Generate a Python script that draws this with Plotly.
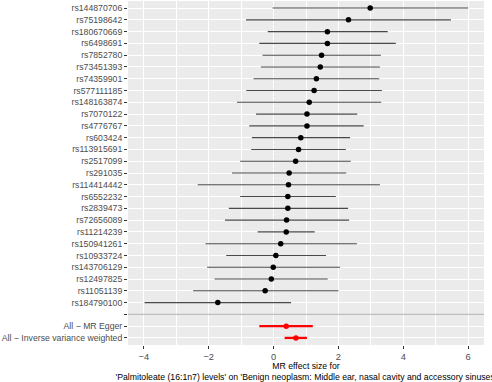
import plotly.graph_objects as go

snps = ["rs144870706", "rs75198642", "rs180670669", "rs6498691", "rs7852780",
        "rs73451393", "rs74359901", "rs577111185", "rs148163874", "rs7070122",
        "rs4776767", "rs603424", "rs113915691", "rs2517099", "rs291035",
        "rs114414442", "rs6552232", "rs2839473", "rs72656089", "rs11214239",
        "rs150941261", "rs10933724", "rs143706129", "rs12497825", "rs11051139",
        "rs184790100"]
snp_b = [2.98, 2.31, 1.66, 1.66, 1.48, 1.44, 1.32, 1.25, 1.10, 1.03,
         1.03, 0.84, 0.77, 0.68, 0.48, 0.46, 0.44, 0.44, 0.40, 0.39,
         0.22, 0.07, -0.01, -0.07, -0.26, -1.72]
snp_lo = [-0.03, -0.85, -0.18, -0.44, -0.34, -0.39, -0.62, -0.84, -1.13, -0.54,
          -0.75, -0.67, -0.69, -1.03, -1.28, -2.34, -1.03, -1.38, -1.50, -0.49,
          -2.10, -1.46, -2.05, -1.82, -2.48, -3.98]
snp_up = [6.00, 5.47, 3.52, 3.77, 3.31, 3.28, 3.26, 3.34, 3.32, 2.58,
          2.78, 2.36, 2.23, 2.38, 2.24, 3.28, 1.92, 2.30, 2.33, 1.27,
          2.57, 1.62, 2.05, 1.67, 2.00, 0.54]

methods = ["All \u2212 MR Egger", "All \u2212 Inverse variance weighted"]
meth_b = [0.39, 0.69]
meth_lo = [-0.44, 0.34]
meth_up = [1.21, 1.03]

blank = " "
categories = snps + [blank] + methods

x_title = ("MR effect size for<br>'Palmitoleate (16:1n7) levels' on "
           "'Benign neoplasm: Middle ear, nasal cavity and accessory sinuses'")

FONT = "Liberation Sans, Arial, Helvetica, sans-serif"

fig = go.Figure()

fig.add_trace(go.Scatter(
    x=snp_b, y=snps, mode="markers",
    marker=dict(color="black", size=5.5),
    error_x=dict(type="data", symmetric=False,
                 array=[u - b for u, b in zip(snp_up, snp_b)],
                 arrayminus=[b - l for b, l in zip(snp_b, snp_lo)],
                 color="#4a4a4a", thickness=1.1, width=0),
    showlegend=False, hoverinfo="skip"))

fig.add_trace(go.Scatter(
    x=meth_b, y=methods, mode="markers",
    marker=dict(color="red", size=5.5),
    error_x=dict(type="data", symmetric=False,
                 array=[u - b for u, b in zip(meth_up, meth_b)],
                 arrayminus=[b - l for b, l in zip(meth_b, meth_lo)],
                 color="red", thickness=2.3, width=0),
    showlegend=False, hoverinfo="skip"))

# dotted reference line at zero
fig.add_shape(type="line", xref="x", yref="paper", x0=0, x1=0, y0=0, y1=1,
              line=dict(color="black", width=1, dash="1px,3px"), layer="between")
# separator line at blank row
fig.add_shape(type="line", xref="paper", yref="y", x0=0, x1=1,
              y0=categories.index(blank), y1=categories.index(blank),
              line=dict(color="#bebebe", width=1.3), layer="above")

n = len(categories)
fig.update_layout(
    width=492, height=382,
    margin=dict(l=128, r=8, t=1, b=37, autoexpand=False),
    paper_bgcolor="white", plot_bgcolor="#EBEBEB",
    font=dict(family=FONT, color="#4D4D4D"),
    xaxis=dict(range=[-4.49, 6.49], tickvals=[-4, -2, 0, 2, 4, 6],
               automargin=False,
               showgrid=True, gridcolor="white", gridwidth=1.1,
               minor=dict(tickvals=[-3, -1, 1, 3, 5], showgrid=True,
                          gridcolor="white", gridwidth=0.55, ticks=""),
               zeroline=False, showline=False,
               ticks="outside", ticklen=3, tickcolor="#333333", tickwidth=1,
               tickfont=dict(size=9.3, color="#4D4D4D"),
               title=dict(text=x_title, standoff=2,
                          font=dict(size=8.7, color="black"))),
    yaxis=dict(type="category", categoryorder="array",
               categoryarray=categories,
               range=[n - 1 + 0.6, -0.6],
               tickmode="array", tickvals=categories, ticktext=categories,
               automargin=False,
               showgrid=True, gridcolor="white", gridwidth=1.1,
               zeroline=False, showline=False,
               ticks="outside", ticklen=3, tickcolor="#333333", tickwidth=1,
               tickfont=dict(size=8.7, color="#4D4D4D")),
)

fig.write_html("out.html", config={"displayModeBar": False},
               post_script="document.body.style.margin='0';")
